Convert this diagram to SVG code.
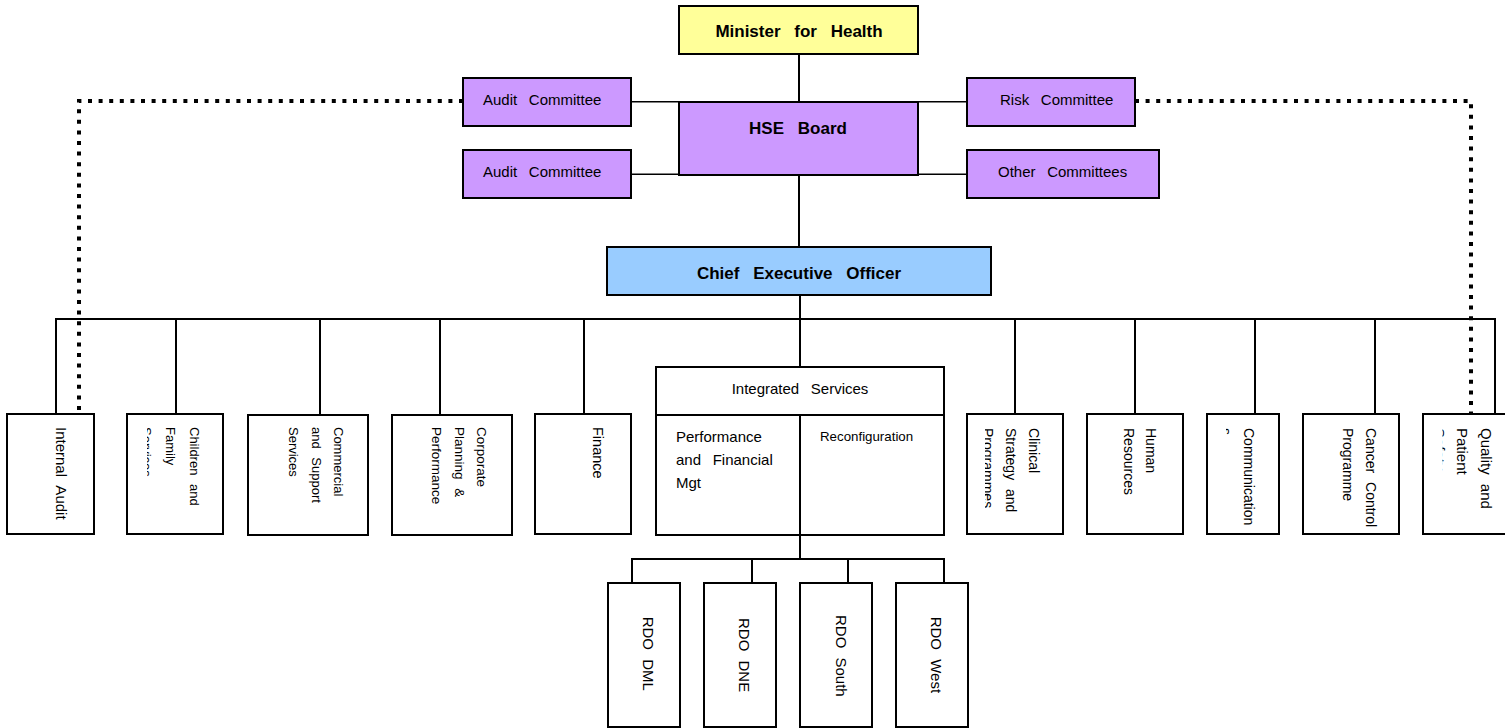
<svg xmlns="http://www.w3.org/2000/svg" width="1505" height="728" viewBox="0 0 1505 728">
<style>
text{font-family:"Liberation Sans",Arial,sans-serif;fill:#000}
.box{stroke:#000;stroke-width:2;fill:#fff}
.min{fill:#ffff99}
.pur{fill:#cc99ff}
.ceo{fill:#99ccff}
.title{font-size:17px;font-weight:bold;word-spacing:9px;text-anchor:middle}
.h{font-size:15px;word-spacing:7.5px}
.v{word-spacing:5px}
.ln{stroke:#000;stroke-width:2;fill:none}
.thin{stroke:#000;stroke-width:1.5;fill:none}
.dot{stroke:#000;stroke-width:4;fill:none;stroke-dasharray:4 6.6}
</style>
<defs>
<clipPath id="cChild"><rect x="147" y="414" width="80" height="120"/></clipPath>
<clipPath id="cClin"><rect x="985" y="414" width="80" height="120"/></clipPath>
<clipPath id="cComm"><rect x="1226" y="414" width="60" height="120"/></clipPath>
<clipPath id="cQual"><rect x="1442.5" y="414" width="80" height="120"/></clipPath>
</defs>

<g id="connectors">
<line class="ln" x1="799" y1="54" x2="799" y2="102"/>
<line class="ln" x1="799" y1="175" x2="799" y2="247"/>
<line class="thin" x1="631" y1="101.7" x2="679" y2="101.7"/>
<line class="thin" x1="631" y1="174.3" x2="679" y2="174.3"/>
<line class="thin" x1="918" y1="101.7" x2="967" y2="101.7"/>
<line class="thin" x1="918" y1="174.3" x2="967" y2="174.3"/>
<line class="ln" x1="800" y1="295" x2="800" y2="319"/>
<polyline class="ln" points="56,414 56,319 1495,319 1495,414"/>
<line class="ln" x1="176" y1="319" x2="176" y2="414"/>
<line class="ln" x1="320" y1="319" x2="320" y2="415"/>
<line class="ln" x1="440" y1="319" x2="440" y2="415"/>
<line class="ln" x1="584" y1="319" x2="584" y2="414"/>
<line class="ln" x1="800" y1="319" x2="800" y2="367"/>
<line class="ln" x1="1015" y1="319" x2="1015" y2="414"/>
<line class="ln" x1="1135" y1="319" x2="1135" y2="414"/>
<line class="ln" x1="1255" y1="319" x2="1255" y2="414"/>
<line class="ln" x1="1375" y1="319" x2="1375" y2="414"/>
<line class="ln" x1="800" y1="535" x2="800" y2="559"/>
<polyline class="ln" points="632,583 632,559 944,559 944,583"/>
<line class="ln" x1="752" y1="559" x2="752" y2="583"/>
<line class="ln" x1="848" y1="559" x2="848" y2="583"/>
<polyline class="dot" points="463,101 79,101 79,414"/>
<polyline class="dot" points="1135,101 1471,101 1471,414"/>
</g>

<g id="minister"><rect class="box min" x="679" y="6" width="239" height="48"/><text class="title" x="799" y="36.5">Minister for Health</text></g>
<g id="hse-board"><rect class="box pur" x="679" y="102" width="239" height="73"/><text class="title" x="798" y="133.5">HSE Board</text></g>
<g id="audit-committee-1"><rect class="box pur" x="463" y="78" width="168" height="48"/><text class="h" x="483" y="105">Audit Committee</text></g>
<g id="audit-committee-2"><rect class="box pur" x="463" y="150" width="168" height="48"/><text class="h" x="483" y="177">Audit Committee</text></g>
<g id="risk-committee"><rect class="box pur" x="967" y="78" width="168" height="48"/><text class="h" x="1000" y="105">Risk Committee</text></g>
<g id="other-committees"><rect class="box pur" x="967" y="150" width="192" height="48"/><text class="h" x="998" y="177">Other Committees</text></g>
<g id="ceo"><rect class="box ceo" x="607" y="247" width="384" height="48"/><text class="title" x="799" y="278.5">Chief Executive Officer</text></g>

<g id="internal-audit"><rect class="box" x="7" y="414" width="87" height="120"/>
<text class="v" font-size="15" transform="translate(56,427) rotate(90)">Internal Audit</text></g>

<g id="children"><rect class="box" x="127" y="414" width="96" height="120"/>
<g font-size="13" clip-path="url(#cChild)">
<text class="v" transform="translate(190,427) rotate(90)">Children and</text>
<text class="v" transform="translate(165.7,427) rotate(90)">Family</text>
<text class="v" transform="translate(142.4,427) rotate(90)">Services</text>
</g></g>

<g id="commercial"><rect class="box" x="248" y="415" width="120" height="120"/>
<g font-size="13">
<text class="v" transform="translate(334,427) rotate(90)">Commercial</text>
<text class="v" transform="translate(312.4,427) rotate(90)">and Support</text>
<text class="v" transform="translate(288.7,427) rotate(90)">Services</text>
</g></g>

<g id="corporate"><rect class="box" x="392" y="415" width="120" height="120"/>
<g font-size="13.5">
<text class="v" transform="translate(477,427) rotate(90)">Corporate</text>
<text class="v" transform="translate(455.3,427) rotate(90)">Planning &amp;</text>
<text class="v" transform="translate(432,427) rotate(90)">Performance</text>
</g></g>

<g id="finance"><rect class="box" x="535" y="414" width="96" height="120"/>
<text class="v" font-size="14.5" transform="translate(593,427) rotate(90)">Finance</text></g>

<g id="integrated-services"><rect class="box" x="656" y="367" width="288" height="168"/>
<line class="ln" x1="656" y1="415" x2="944" y2="415"/>
<line class="ln" x1="800" y1="415" x2="800" y2="535"/>
<text class="h" x="800" y="393.5" text-anchor="middle">Integrated Services</text>
<text class="h" x="676" y="441.7">Performance</text>
<text class="h" x="676" y="465">and Financial</text>
<text class="h" x="676" y="488.3">Mgt</text>
<text font-size="13.3" x="820" y="440.7">Reconfiguration</text>
</g>

<g id="clinical"><rect class="box" x="967" y="414" width="96" height="120"/>
<g font-size="14" clip-path="url(#cClin)">
<text class="v" transform="translate(1028.5,428) rotate(90)">Clinical</text>
<text class="v" transform="translate(1006,428) rotate(90)">Strategy and</text>
<text class="v" transform="translate(983,428) rotate(90)">Programmes</text>
</g></g>

<g id="human-resources"><rect class="box" x="1087" y="414" width="96" height="120"/>
<g font-size="14">
<text class="v" transform="translate(1146,428) rotate(90)">Human</text>
<text class="v" transform="translate(1124,428) rotate(90)">Resources</text>
</g></g>

<g id="communications"><rect class="box" x="1207" y="414" width="72" height="120"/>
<g font-size="14" clip-path="url(#cComm)">
<text class="v" transform="translate(1244.4,428) rotate(90)">Communication</text>
<text class="v" transform="translate(1221,428) rotate(90)">s</text>
</g></g>

<g id="cancer-control"><rect class="box" x="1303" y="414" width="96" height="120"/>
<g font-size="14">
<text class="v" transform="translate(1365.5,428) rotate(90)">Cancer Control</text>
<text class="v" transform="translate(1342.5,428) rotate(90)">Programme</text>
</g></g>

<g id="quality"><rect class="box" x="1423" y="414" width="100" height="120"/>
<g font-size="15" clip-path="url(#cQual)">
<text class="v" transform="translate(1481,428) rotate(90)">Quality and</text>
<text class="v" transform="translate(1457,428) rotate(90)">Patient</text>
<text class="v" transform="translate(1433.5,428) rotate(90)">Safety</text>
</g></g>

<g id="rdo-dml"><rect class="box" x="608" y="583" width="72" height="144"/>
<text class="v" font-size="15" transform="translate(642.6,616.7) rotate(90)">RDO DML</text></g>
<g id="rdo-dne"><rect class="box" x="704" y="583" width="72" height="144"/>
<text class="v" font-size="15" transform="translate(739.3,618) rotate(90)">RDO DNE</text></g>
<g id="rdo-south"><rect class="box" x="800" y="583" width="72" height="144"/>
<text class="v" font-size="15" transform="translate(836,615) rotate(90)">RDO South</text></g>
<g id="rdo-west"><rect class="box" x="896" y="583" width="72" height="144"/>
<text class="v" font-size="15" transform="translate(931,616.7) rotate(90)">RDO West</text></g>
</svg>
